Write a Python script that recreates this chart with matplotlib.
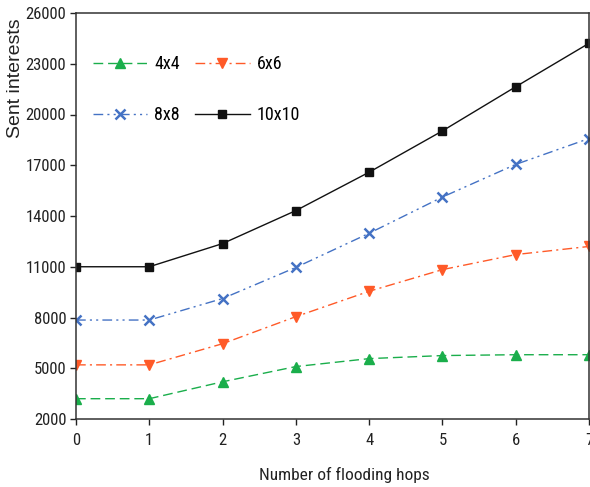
import matplotlib
matplotlib.use("Agg")
import matplotlib.pyplot as plt

hops = [0, 1, 2, 3, 4, 5, 6, 7]
sent_4x4 = [3200, 3200, 4200, 5100, 5570, 5750, 5800, 5800]
sent_6x6 = [5200, 5200, 6450, 8050, 9550, 10830, 11720, 12200]
sent_8x8 = [7850, 7850, 9120, 10960, 12980, 15120, 17050, 18580]
sent_10x10 = [11000, 11000, 12370, 14320, 16590, 19030, 21640, 24210]

y_ticks = [2000, 5000, 8000, 11000, 14000, 17000, 20000, 23000, 26000]

narrow = ["Roboto Condensed", "Archivo Narrow", "DejaVu Sans"]
regular = ["Liberation Sans", "DejaVu Sans"]

fig = plt.figure(figsize=(5.9, 4.87), dpi=100)
ax = fig.add_axes([76 / 590, 68 / 487, 513 / 590, 406 / 487])

l4, = ax.plot(hops, sent_4x4, color="#1aae4b", linestyle=(0, (7, 3.5)), linewidth=1.0,
              marker="^", markersize=7.5, label="4x4")
l6, = ax.plot(hops, sent_6x6, color="#ff5a28", linestyle=(0, (7, 3, 1.5, 3)), linewidth=1.0,
              marker="v", markersize=7.5, label="6x6")
l8, = ax.plot(hops, sent_8x8, color="#4472c4", linestyle=(0, (7, 3, 1.5, 3, 1.5, 3)), linewidth=1.0,
              marker="x", markersize=6.5, markeredgewidth=1.8, label="8x8")
l10, = ax.plot(hops, sent_10x10, color="#111111", linestyle="-", linewidth=1.0,
               marker="s", markersize=6, label="10x10")

ax.set_xlim(0, 7)
ax.set_ylim(2000, 26000)
ax.set_xticks(hops)
ax.set_yticks(y_ticks)
ax.tick_params(direction="out", length=4, width=1, labelsize=12, colors="#222222")
ax.tick_params(axis="y", pad=3)
ax.tick_params(axis="x", pad=6)
for lab in ax.get_xticklabels() + ax.get_yticklabels():
    lab.set_fontfamily(narrow)

for s in ax.spines.values():
    s.set_color("#333333")
    s.set_linewidth(1.1)

ax.set_xlabel("Number of flooding hops", fontsize=12.5, family=narrow, color="#222222",
              va="center")
ax.xaxis.set_label_coords(0.524, -0.138)
ax.set_ylabel("Sent interests", fontsize=14, family=regular, color="#222222", va="center")
ax.yaxis.set_label_coords(-0.118, 0.84)

leg = ax.legend([l4, l8, l6, l10], ["4x4", "8x8", "6x6", "10x10"], ncol=2,
                loc="upper left", bbox_to_anchor=(93 / 590, 1 - 55 / 487),
                bbox_transform=fig.transFigure, frameon=False, borderpad=0, borderaxespad=0,
                handlelength=3.0, handletextpad=0.4, columnspacing=0.85, labelspacing=1.85,
                prop={"family": narrow, "size": 13})

fig.savefig("out.png", dpi=100)
